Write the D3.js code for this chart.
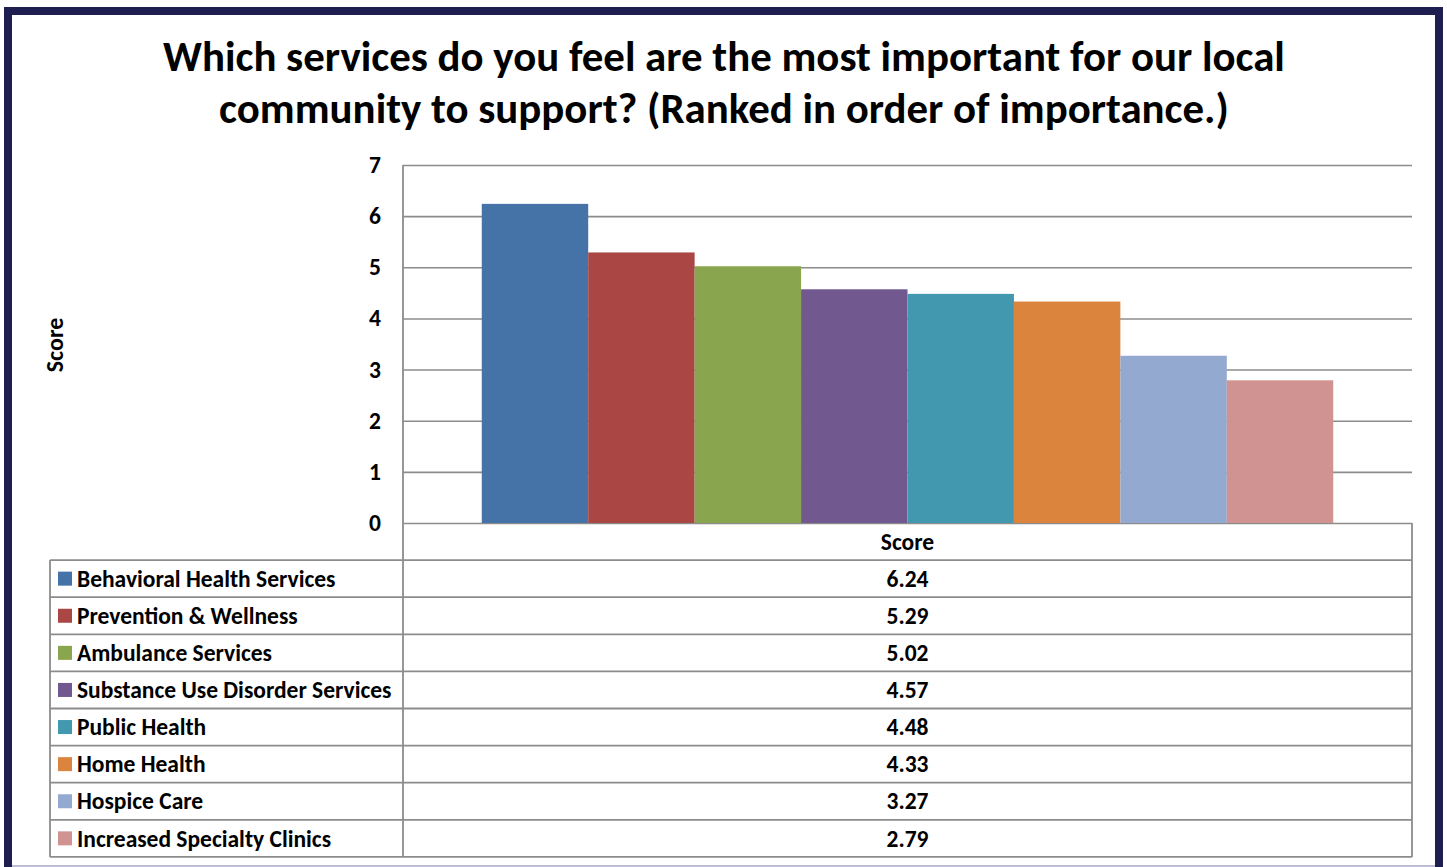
<!DOCTYPE html>
<html>
<head>
<meta charset="utf-8">
<script src="https://cdn.jsdelivr.net/npm/d3@7"></script>
<style>
  html, body { margin: 0; padding: 0; background: #fff; }
  svg { display: block; }
  text { font-family: Carlito, Lato, "Open Sans", sans-serif; font-weight: bold; fill: #000; }
</style>
</head>
<body>
<svg id="chart" width="1447" height="867"></svg>
<script>
// Survey results: services ranked by importance
const titleLines = [
  "Which services do you feel are the most important for our local",
  "community to support? (Ranked in order of importance.)"
];
const services = [
  "Behavioral Health Services",
  "Prevention & Wellness",
  "Ambulance Services",
  "Substance Use Disorder Services",
  "Public Health",
  "Home Health",
  "Hospice Care",
  "Increased Specialty Clinics"
];
const scores = [6.24, 5.29, 5.02, 4.57, 4.48, 4.33, 3.27, 2.79];
const colors = ["#4572A7", "#AA4643", "#89A54E", "#71588F", "#4198AF", "#DB843D", "#93A9CF", "#D19392"];
const yTicks = [0, 1, 2, 3, 4, 5, 6, 7];
const categoryLabel = "Score";
const axisTitle = "Score";

const svg = d3.select("#chart");
const labelSize = 23.5;

// outer frame
svg.append("rect").attr("x", 8).attr("y", 11).attr("width", 1431).attr("height", 870)
  .attr("fill", "none").attr("stroke", "#1e1e50").attr("stroke-width", 8);
svg.append("line").attr("x1", 12).attr("x2", 1435).attr("y1", 866).attr("y2", 866)
  .attr("stroke", "#a9a6c8").attr("stroke-width", 1.5);

// plot geometry
const plotL = 403, plotR = 1412, plotT = 165, plotB = 523;
const rowH = 37.1;
const tableLeft = 50;

const y = d3.scaleLinear().domain([0, 7]).range([plotB, plotT]);
const x = d3.scaleBand().domain(services).range([plotL, plotR]).paddingInner(0).paddingOuter(0.74);

// title
const title = svg.append("g");
titleLines.forEach((t, i) => {
  title.append("text").attr("x", 724).attr("y", 71 + i * 52)
    .attr("text-anchor", "middle").attr("font-size", 36).text(t);
});
// scale the title so the first line spans its target width
const firstLine = title.select("text").node();
const w0 = firstLine.getComputedTextLength();
const fs = 36 * 1122 / w0;
title.selectAll("text").attr("font-size", fs);

// gridlines and tick labels
const yAxis = d3.axisLeft(y).tickValues(yTicks).tickSize(-(plotR - plotL)).tickPadding(22).tickFormat(d3.format("d"));
const ga = svg.append("g").attr("transform", `translate(${plotL},0)`).call(yAxis);
ga.select(".domain").remove();
ga.selectAll(".tick line").attr("stroke", "#8c8c8c").attr("stroke-width", 1.6);
ga.selectAll(".tick text").attr("font-size", labelSize).attr("fill", "#000")
  .style("font-family", "Carlito, Lato, 'Open Sans', sans-serif").style("font-weight", "bold");

// bars
svg.append("g").selectAll("rect").data(services).join("rect")
  .attr("x", d => x(d))
  .attr("width", x.bandwidth())
  .attr("y", (d, i) => y(scores[i]))
  .attr("height", (d, i) => y(0) - y(scores[i]))
  .attr("fill", (d, i) => colors[i]);

// axis title
svg.append("text").attr("transform", "translate(63,345) rotate(-90)")
  .attr("text-anchor", "middle").attr("font-size", 24).text(axisTitle);

// data table
const tableBottom = plotB + rowH * (services.length + 1);
const tg = svg.append("g");
const lineStyle = sel => sel.attr("stroke", "#8c8c8c").attr("stroke-width", 1.8);
// vertical lines
tg.append("line").attr("x1", plotL).attr("x2", plotL).attr("y1", plotT).attr("y2", tableBottom).call(lineStyle);
tg.append("line").attr("x1", plotR).attr("x2", plotR).attr("y1", plotB).attr("y2", tableBottom).call(lineStyle);
tg.append("line").attr("x1", tableLeft).attr("x2", tableLeft).attr("y1", plotB + rowH).attr("y2", tableBottom).call(lineStyle);
// horizontal lines
d3.range(1, services.length + 2).forEach(r => {
  tg.append("line").attr("x1", tableLeft).attr("x2", plotR)
    .attr("y1", plotB + r * rowH).attr("y2", plotB + r * rowH).call(lineStyle);
});
// header
tg.append("text").attr("x", (plotL + plotR) / 2).attr("y", plotB + rowH / 2)
  .attr("dy", "0.35em").attr("text-anchor", "middle").attr("font-size", labelSize).text(categoryLabel);
// rows
const rows = tg.selectAll("g.row").data(services).join("g").attr("class", "row")
  .attr("transform", (d, i) => `translate(0,${plotB + (i + 1.5) * rowH})`);
rows.append("rect").attr("x", 58).attr("y", -7).attr("width", 14).attr("height", 14)
  .attr("fill", (d, i) => colors[i]);
rows.append("text").attr("x", 77).attr("dy", "0.35em").attr("font-size", labelSize).text(d => d);
rows.append("text").attr("x", (plotL + plotR) / 2).attr("dy", "0.35em")
  .attr("text-anchor", "middle").attr("font-size", labelSize).text((d, i) => scores[i].toFixed(2));
</script>
</body>
</html>
